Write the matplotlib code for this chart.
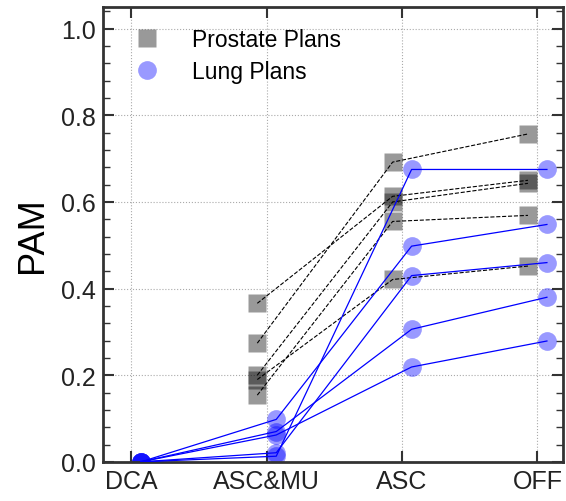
import matplotlib
matplotlib.use("Agg")
import matplotlib.pyplot as plt
import numpy as np
from matplotlib.ticker import MultipleLocator, AutoMinorLocator

plt.rcParams['font.family'] = ['Liberation Sans', 'DejaVu Sans']

categories = ["DCA", "ASC&MU", "ASC", "OFF"]

# Prostate plans (no DCA value shown): ASC&MU, ASC, OFF
prostate = [
    [0.274, 0.692, 0.757],
    [0.366, 0.613, 0.650],
    [0.200, 0.600, 0.643],
    [0.154, 0.555, 0.569],
    [0.190, 0.421, 0.452],
]

# Lung plans: DCA, ASC&MU, ASC, OFF
lung = [
    [0.0, 0.098, 0.498, 0.548],
    [0.0, 0.062, 0.219, 0.279],
    [0.0, 0.070, 0.306, 0.380],
    [0.0, 0.013, 0.675, 0.675],
    [0.0, 0.021, 0.430, 0.460],
]

off = 0.07
fig = plt.figure(figsize=(5.66, 5.02), dpi=100)
ax = fig.add_axes([0.182, 0.078, 0.813, 0.906])

xp = np.arange(1, 4) - off
for i, p in enumerate(prostate):
    ax.plot(xp, p, color='black', ls='--', lw=0.8, zorder=3)
    ax.plot(xp, p, ls='none', marker='s', ms=13, color='black', alpha=0.4,
            mec='none', zorder=2, label='Prostate Plans' if i == 0 else None)

xl = np.arange(0, 4) + off
for i, l in enumerate(lung):
    ax.plot(xl, l, color='blue', ls='-', lw=0.9, zorder=3)
    ax.plot(xl, l, ls='none', marker='o', ms=13.5, color='blue', alpha=0.4,
            mec='none', zorder=2, label='Lung Plans' if i == 0 else None)

ax.set_xlim(-0.21, 3.19)
ax.set_ylim(0, 1.05)
ax.set_xticks(range(4))
ax.set_xticklabels(categories)
ax.yaxis.set_major_locator(MultipleLocator(0.2))
ax.yaxis.set_minor_locator(AutoMinorLocator(5))
ax.set_ylabel("PAM", fontsize=26, labelpad=8)
ax.grid(True, which='major', ls=':', color='#aaaaaa', lw=0.8)
ax.tick_params(which='both', direction='in', top=True, right=True,
               labelsize=18, colors='#333333', labelcolor='#222222')
ax.tick_params(which='major', length=8, width=1.5, pad=5)
ax.tick_params(which='minor', length=5, width=1)
ax.tick_params(axis='x', which='minor', top=False, bottom=False)
for s in ax.spines.values():
    s.set_linewidth(2)
    s.set_color('#333333')

ax.legend(loc='upper left', frameon=False, fontsize=16.5, handletextpad=1.0,
          borderaxespad=0.5, labelspacing=0.4)

fig.savefig("out.png", dpi=100)
